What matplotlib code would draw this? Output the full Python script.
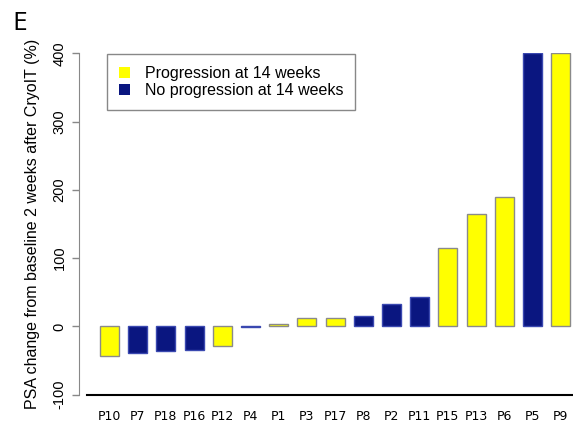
import matplotlib.pyplot as plt
from matplotlib.patches import Patch

# data
patients = ['P10', 'P7', 'P18', 'P16', 'P12', 'P4', 'P1', 'P3', 'P17',
            'P8', 'P2', 'P11', 'P15', 'P13', 'P6', 'P5', 'P9']
psa_change = [-44, -39, -36, -35, -28, -0.8, 4, 12, 13,
              15, 33, 43, 115, 165, 189, 400, 400]
progression = [True, False, False, False, True, False, True, True, True,
               False, False, False, True, True, True, False, True]

yellow = '#FFFF00'
navy = '#0A1680'

W, H = 573, 428
fig = plt.figure(figsize=(W / 100, H / 100), dpi=100)

# px positions of the plotting region
x_first, x_step = 109.5, 28.2
ax = fig.add_axes([79 / W, 1 - 394.7 / H, 1 - 79 / W, (394.7 - 53.3) / H])

xs = list(range(len(patients)))
cols = [yellow if p else navy for p in progression]
edges = ['#8a8a8a' if p else '#3a48b0' for p in progression]
ax.bar(xs, psa_change, width=0.68, color=cols, edgecolor=edges, linewidth=1)

ax.set_xlim((79 - x_first) / x_step, (W - x_first) / x_step)
ax.set_ylim(-100, 400)

for s in ['top', 'right']:
    ax.spines[s].set_visible(False)
ax.spines['left'].set_color('#888888')
ax.spines['left'].set_bounds(-100, 400)
ax.spines['bottom'].set_color('black')
ax.spines['bottom'].set_linewidth(1.5)
ax.spines['bottom'].set_bounds((87 - x_first) / x_step, (W - x_first) / x_step)

ax.set_yticks([-100, 0, 100, 200, 300, 400])
ax.set_yticklabels(['-100', '0', '100', '200', '300', '400'],
                   rotation=90, va='center', fontsize=10.5,
                   family='Liberation Sans')
ax.tick_params(axis='y', colors='#888888', length=5, width=1, pad=4,
               labelcolor='black')
ax.set_xticks(xs)
ax.set_xticklabels(patients, fontsize=9, family='DejaVu Sans')
ax.tick_params(axis='x', length=0, pad=11)

fig.text(33 / W, 1 - 224 / H,
         'PSA change from baseline 2 weeks after CryoIT (%)',
         rotation=90, ha='center', va='center', fontsize=11.5,
         family='Liberation Sans')
fig.text(12 / W, 1 - 24 / H, 'E', ha='left', va='center', fontsize=19,
         family='Open Sans')

handles = [Patch(facecolor=yellow, edgecolor='none'),
           Patch(facecolor=navy, edgecolor='none')]
leg = ax.legend(handles, ['Progression at 14 weeks', 'No progression at 14 weeks'],
                loc='upper left', bbox_to_anchor=(107 / W, 1 - 54 / H),
                bbox_transform=fig.transFigure, fancybox=False,
                edgecolor='#888888', framealpha=1, borderpad=0.75,
                handlelength=0.7, handleheight=0.7, handletextpad=0.9,
                labelspacing=0.15, borderaxespad=0,
                prop={'family': 'Liberation Sans', 'size': 11.5})
leg.get_frame().set_linewidth(1)

fig.savefig('out.png', dpi=100)
